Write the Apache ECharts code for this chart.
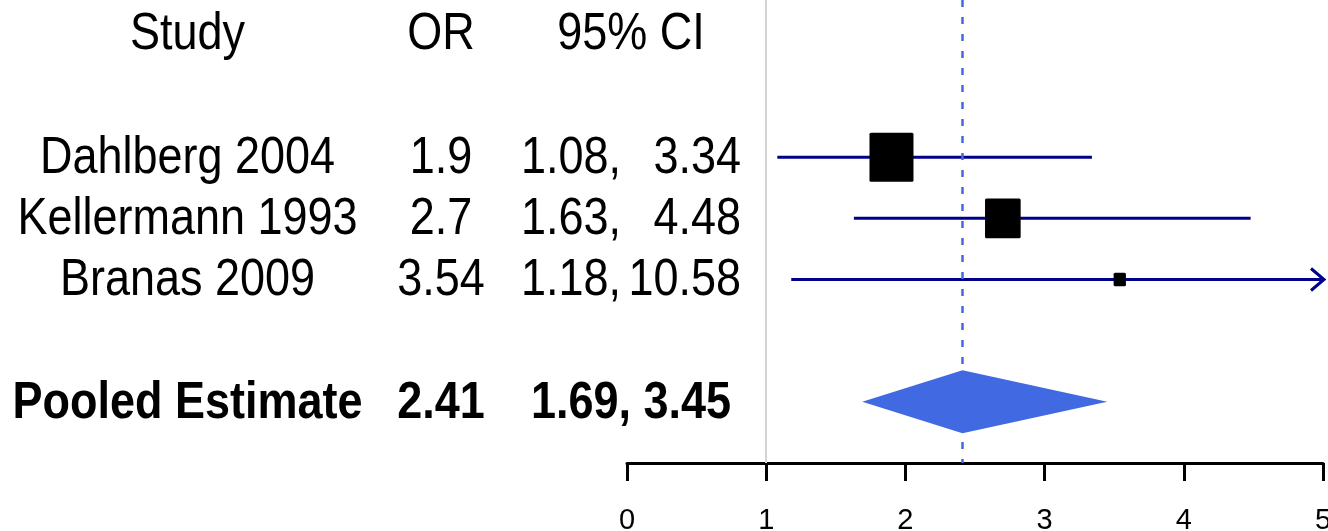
<!DOCTYPE html>
<html><head><meta charset="utf-8">
<script src="https://cdn.jsdelivr.net/npm/echarts@6/dist/echarts.min.js"></script>
<style>html,body{margin:0;padding:0;background:#fff}#chart{width:1328px;height:531px}</style>
</head><body><div id="chart"></div>
<script>
// ---- data ----
const headers = ['Study', 'OR', '95% CI'];
const studies = ['Dahlberg 2004', 'Kellermann 1993', 'Branas 2009'];
const oddsRatios = [1.9, 2.7, 3.54];
const ciLower = [1.08, 1.63, 1.18];
const ciUpper = [3.34, 4.48, 10.58];
const studyWeights = [1.0, 0.81, 0.28];
const pooledLabel = 'Pooled Estimate';
const pooledOR = 2.41;
const pooledLower = 1.69;
const pooledUpper = 3.45;
const nullValue = 1;
const xTicks = [0, 1, 2, 3, 4, 5];

// ---- layout / style ----
const FONT = '"Liberation Sans", Arial, Helvetica, sans-serif';
const X_MIN = xTicks[0], X_MAX = xTicks[xTicks.length - 1];
const studyRows = studies.map((_, i) => i + 1);
const pooledRow = studies.length + 2;
const headerRow = -1.03;
const COL_STUDY = 187.5, COL_OR = 441, COL_CI_L = 521, COL_CI_R = 741, COL_CI_C = 631;
const TEXT_DY = 1.5;
const TEXT_SCALE_Y = 1.15;
const BOX_W = 44, BOX_H = 49;
const CI_COLOR = '#00008B', POOL_COLOR = '#4169E1';

const studyData = studies.map((s, i) => [ciLower[i], ciUpper[i], oddsRatios[i], studyWeights[i], studyRows[i]]);

const tableRows = [
  { row: headerRow, bold: false, name: headers[0], or: headers[1], ci: headers[2] },
  ...studies.map((s, i) => ({ row: studyRows[i], bold: false, name: s, or: String(oddsRatios[i]),
      lo: ciLower[i].toFixed(2) + ',', hi: ciUpper[i].toFixed(2) })),
  { row: pooledRow, bold: true, name: pooledLabel, or: String(pooledOR),
    ci: pooledLower.toFixed(2) + ', ' + pooledUpper.toFixed(2) }
];

function txt(x, y, text, align, bold) {
  return { type: 'text', x: x, y: y, scaleY: TEXT_SCALE_Y,
    style: { text: text, x: 0, y: 0, align: align, verticalAlign: 'middle',
      font: (bold ? 'bold ' : '') + '45px ' + FONT, fill: '#000' } };
}

const chart = echarts.init(document.getElementById('chart'), null, { renderer: 'canvas' });
chart.setOption({
  animation: false,
  backgroundColor: '#fff',
  grid: { left: 627, right: 5, top: 0, bottom: 68, outerBoundsMode: 'none', containLabel: false },
  xAxis: {
    type: 'value', min: X_MIN, max: X_MAX, interval: 1,
    axisLine: { show: true, onZero: false, lineStyle: { color: '#000', width: 3 } },
    axisTick: { show: true, inside: false, length: 18, lineStyle: { color: '#000', width: 3 } },
    axisLabel: { color: '#000', fontSize: 29, fontFamily: FONT, margin: 43, hideOverlap: false,
      showMinLabel: true, showMaxLabel: true,
      formatter: v => xTicks.includes(v) ? String(v) : '' },
    splitLine: { show: false }
  },
  yAxis: { type: 'value', inverse: true, min: -1.57, max: 6, show: false },
  series: [
    {
      type: 'line', data: [], z: 3, silent: true,
      markLine: {
        symbol: 'none', silent: true, animation: false, label: { show: false }, z: 3,
        data: [
          { xAxis: nullValue, lineStyle: { color: '#D3D3D3', width: 2, type: 'solid' } },
          { xAxis: pooledOR, lineStyle: { color: POOL_COLOR, width: 2.5, type: [7, 10] } }
        ]
      }
    },
    {
      type: 'custom', z: 2, clip: false,
      data: studyData,
      renderItem: function (params, api) {
        const lo = api.value(0), hi = api.value(1), or = api.value(2), w = api.value(3), row = api.value(4);
        const hiC = Math.min(hi, X_MAX), loC = Math.max(lo, X_MIN);
        const p1 = api.coord([loC, row]);
        const p2 = api.coord([hiC, row]);
        const pc = api.coord([or, row]);
        const children = [{
          type: 'line', shape: { x1: p1[0], y1: p1[1], x2: p2[0] + (hi > X_MAX ? 1 : 0), y2: p2[1] },
          style: { stroke: CI_COLOR, lineWidth: 3, lineCap: 'butt' }
        }];
        if (hi > X_MAX) {
          const tx = p2[0] + 1;
          children.push({ type: 'polyline', shape: { points: [[tx - 13, p2[1] - 11], [tx, p2[1]], [tx - 13, p2[1] + 11]] },
            style: { stroke: CI_COLOR, lineWidth: 3, fill: null } });
        }
        const bw = BOX_W * w, bh = BOX_H * w;
        children.push({ type: 'rect', shape: { x: pc[0] - bw / 2, y: pc[1] - bh / 2, width: bw, height: bh, r: 1.5 },
          style: { fill: '#000' } });
        return { type: 'group', children: children };
      }
    },
    {
      type: 'custom', z: 4, clip: false,
      data: [[pooledLower, pooledOR, pooledUpper, pooledRow]],
      renderItem: function (params, api) {
        const row = api.value(3);
        const l = api.coord([api.value(0), row]);
        const c = api.coord([api.value(1), row]);
        const r = api.coord([api.value(2), row]);
        const hh = 31.5;
        return { type: 'polygon', shape: { points: [[l[0], l[1]], [c[0], c[1] - hh], [r[0], r[1]], [c[0], c[1] + hh]] },
          style: { fill: POOL_COLOR } };
      }
    },
    {
      type: 'custom', z: 5, clip: false,
      data: tableRows.map(r => [0, r.row]),
      renderItem: function (params, api) {
        const t = tableRows[params.dataIndex];
        const y = api.coord([0, api.value(1)])[1] + TEXT_DY;
        const ch = [txt(COL_STUDY, y, t.name, 'center', t.bold), txt(COL_OR, y, t.or, 'center', t.bold)];
        if (t.ci !== undefined) ch.push(txt(COL_CI_C, y, t.ci, 'center', t.bold));
        else { ch.push(txt(COL_CI_L, y, t.lo, 'left', t.bold)); ch.push(txt(COL_CI_R, y, t.hi, 'right', t.bold)); }
        return { type: 'group', children: ch };
      }
    }
  ]
});
</script></body></html>
